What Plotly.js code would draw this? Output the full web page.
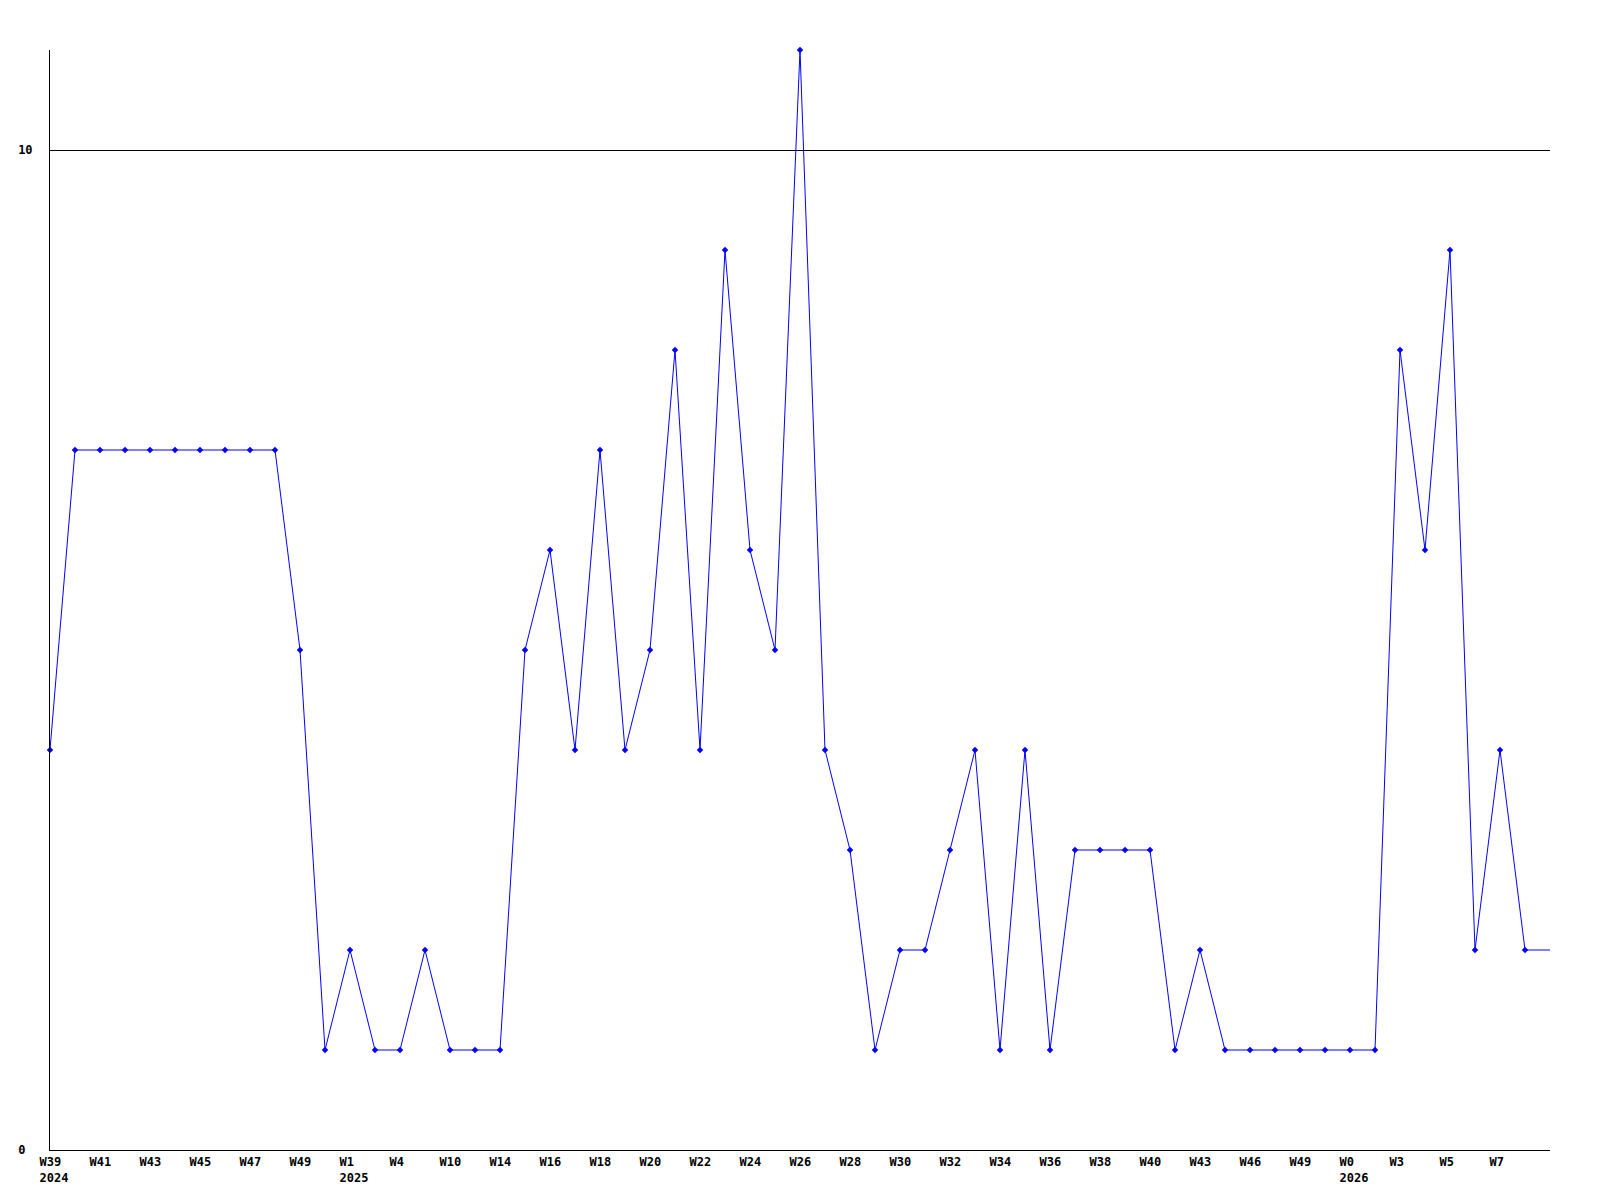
<!DOCTYPE html>
<html>
<head>
<meta charset="utf-8">
<script src="https://cdn.plot.ly/plotly-3.0.1.min.js"></script>
<style>html,body{margin:0;padding:0;background:#fff;}</style>
</head>
<body>
<div id="chart" style="width:1600px;height:1200px;"></div>
<script>
// Weekly values (one per point, left to right); the last one sits on the right edge
const values = [4,7,7,7,7,7,7,7,7,7,
                5,1,2,1,1,2,1,1,1,
                5,6,4,7,4,5,8,4,9,6,
                5,11,4,3,1,2,2,3,4,1,
                4,1,3,3,3,3,1,2,1,1,
                1,1,1,1,1,8,6,9,2,4,
                2,2];
// Labels shown under every second point
const weekLabels = ["W39","W41","W43","W45","W47","W49","W1","W4","W10","W14",
                    "W16","W18","W20","W22","W24","W26","W28","W30","W32","W34",
                    "W36","W38","W40","W43","W46","W49","W0","W3","W5","W7"];
const yearLabels = {"W39":"2024","W1":"2025","W0":"2026"};
const yTickVals = [0, 10];
const yTickText = ["0", "10"];

const NB = "\u00a0";
function pad(s, n){ while (s.length < n) s += NB; return s; }

const xIdx = values.map((v, i) => i);
const tickVals = weekLabels.map((w, k) => k * 2);
const tickText = weekLabels.map((w, k) => {
  const yr = (k === 0 || k === 6 || k === 26) ? yearLabels[w] : null;
  return yr ? pad(w, 4) + "<br>" + yr : pad(w, 4);
});

const font = {family: "DejaVu Sans Mono", size: 12, color: "#000", weight: "bold"};

const traces = [
  {x: xIdx, y: values, type: "scatter", mode: "lines",
   line: {color: "#0000ff", width: 1}, hoverinfo: "skip", cliponaxis: true},
  {x: xIdx.slice(0, values.length - 1), y: values.slice(0, values.length - 1),
   type: "scatter", mode: "markers",
   marker: {color: "#0000ff", size: 5, symbol: "diamond"}, cliponaxis: false}
];

const layout = {
  width: 1600, height: 1200,
  margin: {l: 50, r: 50, t: 50, b: 50},
  paper_bgcolor: "#fff", plot_bgcolor: "#fff",
  showlegend: false,
  xaxis: {
    range: [0, values.length - 1],
    showline: true, linecolor: "#000", linewidth: 1,
    showgrid: false, zeroline: false,
    tickmode: "array", tickvals: tickVals, ticktext: tickText,
    ticks: "", ticklabelstandoff: 1, ticklabelshift: 4,
    tickfont: font, tickangle: 0
  },
  yaxis: {
    range: [0, 11],
    showline: true, linecolor: "#000", linewidth: 1,
    showgrid: true, gridcolor: "#000", gridwidth: 1,
    zeroline: false,
    tickmode: "array", tickvals: yTickVals, ticktext: yTickText.map(t => pad(t, 2)),
    ticks: "", ticklabelstandoff: 14,
    tickfont: font
  }
};

Plotly.newPlot("chart", traces, layout, {displayModeBar: false, staticPlot: true});
</script>
</body>
</html>
